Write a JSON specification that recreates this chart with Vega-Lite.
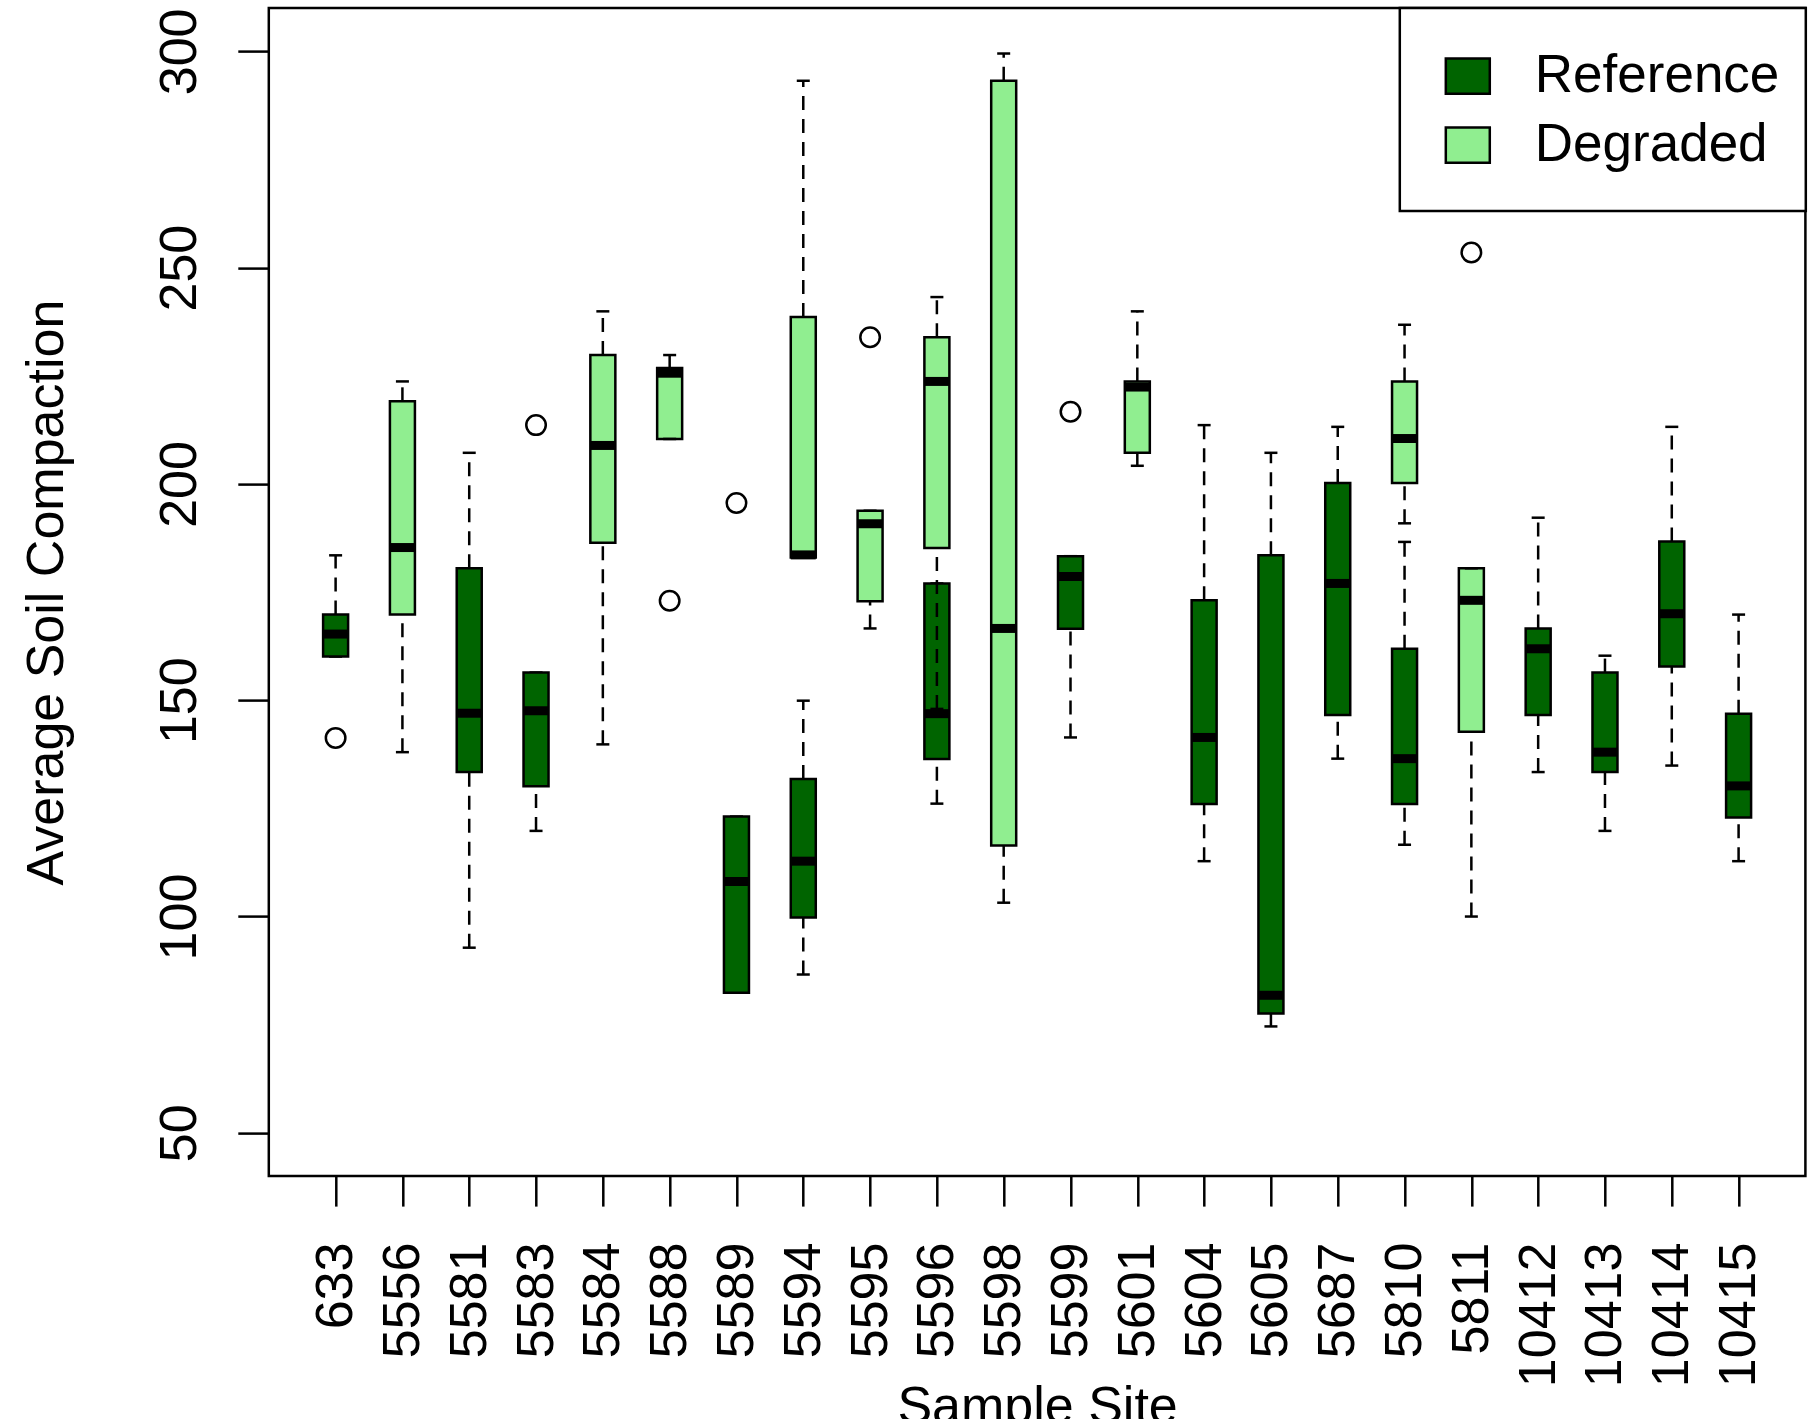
{
  "$schema": "https://vega.github.io/schema/vega-lite/v6.json",
  "autosize": "none",
  "width": 1536.6,
  "height": 1168,
  "padding": {"left": 268.8, "top": 8.1, "right": 11.6, "bottom": 242.9},
  "background": "white",
  "config": {
    "view": {"stroke": "black", "strokeWidth": 2.5},
    "font": "Liberation Sans",
    "axis": {
      "grid": false,
      "domain": false,
      "tickColor": "black",
      "tickWidth": 2.5,
      "labelColor": "black",
      "titleColor": "black",
      "labelFont": "Liberation Sans",
      "titleFont": "Liberation Sans",
      "labelFontSize": 52,
      "titleFontSize": 52,
      "titleFontWeight": "normal",
      "labelFlush": false,
      "labelOverlap": false,
      "labelLimit": 400
    },
    "axisY": {
      "labelAngle": -90,
      "labelAlign": "center",
      "labelBaseline": "alphabetic",
      "labelPadding": 42,
      "tickSize": 31,
      "titlePadding": 80
    },
    "legend": {
      "fillColor": "white",
      "strokeColor": "black",
      "strokeWidth": 2.5,
      "padding": 26,
      "labelFont": "Liberation Sans",
      "labelFontSize": 53,
      "labelColor": "black",
      "labelOffset": 25,
      "labelLimit": 400,
      "symbolType": "M-0.543,-0.435H0.543V0.435H-0.543Z",
      "symbolSize": 6561,
      "symbolOffset": 0,
      "symbolStrokeColor": "black",
      "symbolStrokeWidth": 2.5,
      "symbolOpacity": 1,
      "rowPadding": -21.5,
      "titleOrient": "bottom",
      "titleFontSize": 8,
      "titlePadding": 5,
      "titleColor": "white",
      "cornerRadius": 0
    }
  },
  "datasets": {
    "boxes": [
      {"site": "633", "group": "Reference", "lo": 160.1, "q1": 160.1, "med": 165.3, "q3": 169.8, "hi": 183.5},
      {"site": "5581", "group": "Reference", "lo": 92.8, "q1": 133.4, "med": 147.0, "q3": 180.5, "hi": 207.2},
      {"site": "5583", "group": "Reference", "lo": 119.8, "q1": 130.1, "med": 147.6, "q3": 156.4, "hi": 156.4},
      {"site": "5589", "group": "Reference", "lo": 82.4, "q1": 82.4, "med": 108.1, "q3": 123.1, "hi": 123.1},
      {"site": "5594", "group": "Reference", "lo": 86.6, "q1": 99.8, "med": 112.8, "q3": 131.8, "hi": 149.9},
      {"site": "5596", "group": "Reference", "lo": 126.1, "q1": 136.4, "med": 146.9, "q3": 177.0, "hi": 177.0},
      {"site": "5599", "group": "Reference", "lo": 141.4, "q1": 166.5, "med": 178.6, "q3": 183.3, "hi": 183.3},
      {"site": "5604", "group": "Reference", "lo": 112.8, "q1": 126.0, "med": 141.4, "q3": 173.1, "hi": 213.6},
      {"site": "5605", "group": "Reference", "lo": 74.6, "q1": 77.6, "med": 81.8, "q3": 183.5, "hi": 207.2},
      {"site": "5687", "group": "Reference", "lo": 136.5, "q1": 146.6, "med": 177.0, "q3": 200.2, "hi": 213.2},
      {"site": "5810", "group": "Reference", "lo": 116.6, "q1": 126.0, "med": 136.5, "q3": 161.9, "hi": 186.6},
      {"site": "10412", "group": "Reference", "lo": 133.4, "q1": 146.6, "med": 161.9, "q3": 166.6, "hi": 192.2},
      {"site": "10413", "group": "Reference", "lo": 119.8, "q1": 133.4, "med": 138.0, "q3": 156.4, "hi": 160.3},
      {"site": "10414", "group": "Reference", "lo": 134.9, "q1": 157.8, "med": 170.0, "q3": 186.7, "hi": 213.2},
      {"site": "10415", "group": "Reference", "lo": 112.8, "q1": 122.9, "med": 130.2, "q3": 146.9, "hi": 169.8},
      {"site": "5556", "group": "Degraded", "lo": 138.0, "q1": 169.8, "med": 185.3, "q3": 219.1, "hi": 223.7},
      {"site": "5584", "group": "Degraded", "lo": 139.8, "q1": 186.4, "med": 208.9, "q3": 229.8, "hi": 239.9},
      {"site": "5588", "group": "Degraded", "lo": 210.4, "q1": 210.4, "med": 225.6, "q3": 226.8, "hi": 229.8},
      {"site": "5594", "group": "Degraded", "lo": 183.0, "q1": 183.0, "med": 183.6, "q3": 238.6, "hi": 293.2},
      {"site": "5595", "group": "Degraded", "lo": 166.6, "q1": 172.9, "med": 190.8, "q3": 193.8, "hi": 193.8},
      {"site": "5596", "group": "Degraded", "lo": 148.0, "q1": 185.2, "med": 223.7, "q3": 233.9, "hi": 243.2},
      {"site": "5598", "group": "Degraded", "lo": 103.2, "q1": 116.4, "med": 166.6, "q3": 293.2, "hi": 299.5},
      {"site": "5601", "group": "Degraded", "lo": 204.2, "q1": 207.2, "med": 222.4, "q3": 223.7, "hi": 239.9},
      {"site": "5810", "group": "Degraded", "lo": 190.9, "q1": 200.2, "med": 210.5, "q3": 223.7, "hi": 236.8},
      {"site": "5811", "group": "Degraded", "lo": 100.0, "q1": 142.7, "med": 173.1, "q3": 180.5, "hi": 180.5}
    ],
    "outliers": [
      {"site": "633", "value": 141.3},
      {"site": "5583", "value": 213.6},
      {"site": "5588", "value": 173.0},
      {"site": "5589", "value": 195.6},
      {"site": "5595", "value": 233.9},
      {"site": "5599", "value": 216.7},
      {"site": "5811", "value": 253.5}
    ]
  },
  "data": {"name": "boxes"},
  "encoding": {
    "x": {
      "field": "site",
      "type": "ordinal",
      "scale": {
        "type": "point",
        "padding": 1.38,
        "domain": ["633", "5556", "5581", "5583", "5584", "5588", "5589", "5594", "5595", "5596", "5598", "5599", "5601", "5604", "5605", "5687", "5810", "5811", "10412", "10413", "10414", "10415"]
      },
      "axis": {
        "title": "Sample Site",
        "labelAngle": -90,
        "labelPadding": 36,
        "tickSize": 30,
        "titlePadding": 5
      }
    }
  },
  "layer": [
    {
      "transform": [{"filter": "datum.group === 'Reference'"}],
      "layer": [
        {
          "mark": {"type": "rule", "color": "black", "strokeWidth": 2.5, "strokeDash": [14, 9]},
          "encoding": {
            "y": {"field": "lo", "type": "quantitative", "scale": {"domain": [40, 310], "nice": false, "zero": false}, "title": "Average Soil Compaction", "axis": {"values": [50, 100, 150, 200, 250, 300]}},
            "y2": {"field": "q1"}
          }
        },
        {
          "mark": {"type": "rule", "color": "black", "strokeWidth": 2.5, "strokeDash": [14, 9]},
          "encoding": {
            "y": {"field": "q3", "type": "quantitative", "scale": {"domain": [40, 310], "nice": false, "zero": false}, "title": "Average Soil Compaction", "axis": {"values": [50, 100, 150, 200, 250, 300]}},
            "y2": {"field": "hi"}
          }
        },
        {
          "mark": {"type": "tick", "color": "black", "thickness": 2.5, "size": 13, "opacity": 1},
          "encoding": {"y": {"field": "lo", "type": "quantitative", "scale": {"domain": [40, 310], "nice": false, "zero": false}, "title": "Average Soil Compaction", "axis": {"values": [50, 100, 150, 200, 250, 300]}}}
        },
        {
          "mark": {"type": "tick", "color": "black", "thickness": 2.5, "size": 13, "opacity": 1},
          "encoding": {"y": {"field": "hi", "type": "quantitative", "scale": {"domain": [40, 310], "nice": false, "zero": false}, "title": "Average Soil Compaction", "axis": {"values": [50, 100, 150, 200, 250, 300]}}}
        },
        {
          "mark": {"type": "bar", "width": 25, "stroke": "black", "strokeWidth": 2.5, "opacity": 1},
          "encoding": {
            "y": {"field": "q1", "type": "quantitative", "scale": {"domain": [40, 310], "nice": false, "zero": false}, "title": "Average Soil Compaction", "axis": {"values": [50, 100, 150, 200, 250, 300]}},
            "y2": {"field": "q3"},
            "color": {"field": "group", "type": "nominal", "scale": {"domain": ["Reference", "Degraded"], "range": ["#006400", "#90EE90"]},
              "legend": {"title": " ", "orient": "none", "legendX": 1131, "legendY": 0}}
          }
        },
        {
          "mark": {"type": "tick", "color": "black", "thickness": 9, "size": 25, "opacity": 1},
          "encoding": {"y": {"field": "med", "type": "quantitative", "scale": {"domain": [40, 310], "nice": false, "zero": false}, "title": "Average Soil Compaction", "axis": {"values": [50, 100, 150, 200, 250, 300]}}}
        }
      ]
    },
    {
      "transform": [{"filter": "datum.group === 'Degraded'"}],
      "layer": [
        {
          "mark": {"type": "bar", "width": 25, "stroke": "black", "strokeWidth": 2.5, "opacity": 1},
          "encoding": {
            "y": {"field": "q1", "type": "quantitative", "scale": {"domain": [40, 310], "nice": false, "zero": false}, "title": "Average Soil Compaction", "axis": {"values": [50, 100, 150, 200, 250, 300]}},
            "y2": {"field": "q3"},
            "color": {"field": "group", "type": "nominal", "scale": {"domain": ["Reference", "Degraded"], "range": ["#006400", "#90EE90"]},
              "legend": {"title": " ", "orient": "none", "legendX": 1131, "legendY": 0}}
          }
        },
        {
          "mark": {"type": "tick", "color": "black", "thickness": 9, "size": 25, "opacity": 1},
          "encoding": {"y": {"field": "med", "type": "quantitative", "scale": {"domain": [40, 310], "nice": false, "zero": false}, "title": "Average Soil Compaction", "axis": {"values": [50, 100, 150, 200, 250, 300]}}}
        },
        {
          "mark": {"type": "rule", "color": "black", "strokeWidth": 2.5, "strokeDash": [14, 9]},
          "encoding": {
            "y": {"field": "lo", "type": "quantitative", "scale": {"domain": [40, 310], "nice": false, "zero": false}, "title": "Average Soil Compaction", "axis": {"values": [50, 100, 150, 200, 250, 300]}},
            "y2": {"field": "q1"}
          }
        },
        {
          "mark": {"type": "rule", "color": "black", "strokeWidth": 2.5, "strokeDash": [14, 9]},
          "encoding": {
            "y": {"field": "q3", "type": "quantitative", "scale": {"domain": [40, 310], "nice": false, "zero": false}, "title": "Average Soil Compaction", "axis": {"values": [50, 100, 150, 200, 250, 300]}},
            "y2": {"field": "hi"}
          }
        },
        {
          "mark": {"type": "tick", "color": "black", "thickness": 2.5, "size": 13, "opacity": 1},
          "encoding": {"y": {"field": "lo", "type": "quantitative", "scale": {"domain": [40, 310], "nice": false, "zero": false}, "title": "Average Soil Compaction", "axis": {"values": [50, 100, 150, 200, 250, 300]}}}
        },
        {
          "mark": {"type": "tick", "color": "black", "thickness": 2.5, "size": 13, "opacity": 1},
          "encoding": {"y": {"field": "hi", "type": "quantitative", "scale": {"domain": [40, 310], "nice": false, "zero": false}, "title": "Average Soil Compaction", "axis": {"values": [50, 100, 150, 200, 250, 300]}}}
        }
      ]
    },
    {
      "data": {"name": "outliers"},
      "mark": {"type": "point", "shape": "circle", "filled": false, "stroke": "black", "strokeWidth": 2.5, "size": 380, "opacity": 1},
      "encoding": {
        "y": {"field": "value", "type": "quantitative", "scale": {"domain": [40, 310], "nice": false, "zero": false}, "title": "Average Soil Compaction", "axis": {"values": [50, 100, 150, 200, 250, 300]}}
      }
    }
  ]
}
